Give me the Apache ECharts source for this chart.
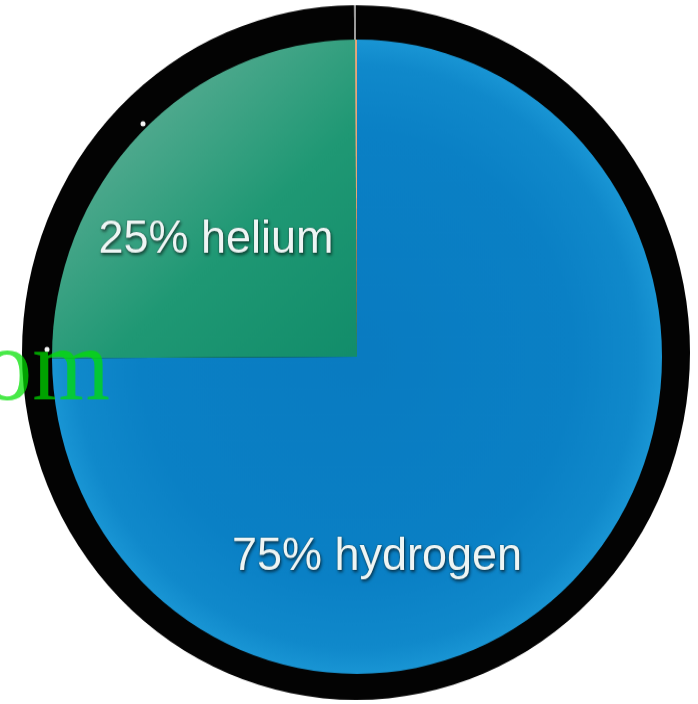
<!DOCTYPE html>
<html>
<head>
<meta charset="utf-8">
<script src="https://cdn.jsdelivr.net/npm/echarts@6/dist/echarts.min.js"></script>
<style>
  html, body { margin: 0; padding: 0; background: #ffffff; overflow: hidden; }
  #wrap { width: 698px; height: 704px; overflow: hidden; position: relative; }
  #c { width: 698px; height: 677px; transform: scaleY(1.04); transform-origin: 0 0; }
</style>
</head>
<body>
<div id="wrap"><div id="c"></div></div>
<script>
// ---- data ----
const categories = ['hydrogen', 'helium', 'other'];
const shares = [75, 25, 0.1];
const labelNames = ['75% hydrogen', '25% helium', ''];
const ringParts = ['ring', 'seam'];
const ringValues = [99.9, 0.1];
const watermarkText = 'om';

const chart = echarts.init(document.getElementById('c'), null, { renderer: 'canvas' });

const sliceColors = [
  { type: 'radial', x: 357, y: 343, r: 305, global: true,
    colorStops: [{ offset: 0, color: '#097bc1' }, { offset: 0.7, color: '#0a80c5' }, { offset: 0.92, color: '#1089cb' }, { offset: 1, color: '#1995d4' }] },
  { type: 'linear', x: 110, y: 70, x2: 357, y2: 343, global: true,
    colorStops: [{ offset: 0, color: '#62b098' }, { offset: 0.55, color: '#1f9874' }, { offset: 1, color: '#128d6a' }] },
  '#e9a676'
];
const labelPos = [
  { x: 377, y: 536 },
  { x: 216, y: 231 },
  { x: 0, y: 0 }
];

const option = {
  backgroundColor: '#ffffff',
  animation: false,
  series: [
    {
      type: 'pie',
      center: [356, 339],
      radius: [0, 334],
      startAngle: 90,
      clockwise: true,
      silent: true,
      label: { show: false },
      labelLine: { show: false },
      itemStyle: { borderWidth: 0 },
      data: ringParts.map((n, i) => ({
        name: n, value: ringValues[i],
        itemStyle: { color: i === 0 ? '#030303' : '#9a9a9a' }
      })),
      z: 1
    },
    {
      type: 'pie',
      center: [357, 343],
      radius: [0, 305],
      startAngle: 90,
      clockwise: true,
      silent: true,
      itemStyle: { borderWidth: 0 },
      labelLine: { show: false },
      label: {
        show: true,
        position: 'inside',
        formatter: p => labelNames[p.dataIndex],
        fontFamily: 'Liberation Sans, Arial, sans-serif',
        fontSize: 45,
        fontWeight: 'normal',
        color: '#eef5f4',
        textBorderColor: 'rgba(20,50,50,0.3)',
        textBorderWidth: 1,
        textShadowColor: 'rgba(0,0,0,0.55)',
        textShadowBlur: 3,
        textShadowOffsetX: 1,
        textShadowOffsetY: 2
      },
      labelLayout: p => ({
        x: labelPos[p.dataIndex].x,
        y: labelPos[p.dataIndex].y,
        align: 'center',
        verticalAlign: 'middle'
      }),
      data: categories.map((n, i) => ({
        name: n, value: shares[i],
        itemStyle: { color: sliceColors[i] },
        label: { show: labelNames[i] !== '' }
      })),
      z: 2
    }
  ],
  graphic: [
    { type: 'circle', shape: { cx: 143, cy: 119, r: 2.5 }, style: { fill: '#f4f4f4' }, z: 10 },
    { type: 'circle', shape: { cx: 47, cy: 336, r: 2.5 }, style: { fill: '#f4f4f4' }, z: 10 },
    {
      type: 'text', x: 110, y: 308, z: 20,
      style: {
        text: watermarkText,
        font: '100px "Liberation Serif", "Times New Roman", serif',
        fill: 'rgba(0,225,0,0.72)',
        align: 'right',
        verticalAlign: 'top'
      }
    }
  ]
};
chart.setOption(option);
</script>
</body>
</html>
